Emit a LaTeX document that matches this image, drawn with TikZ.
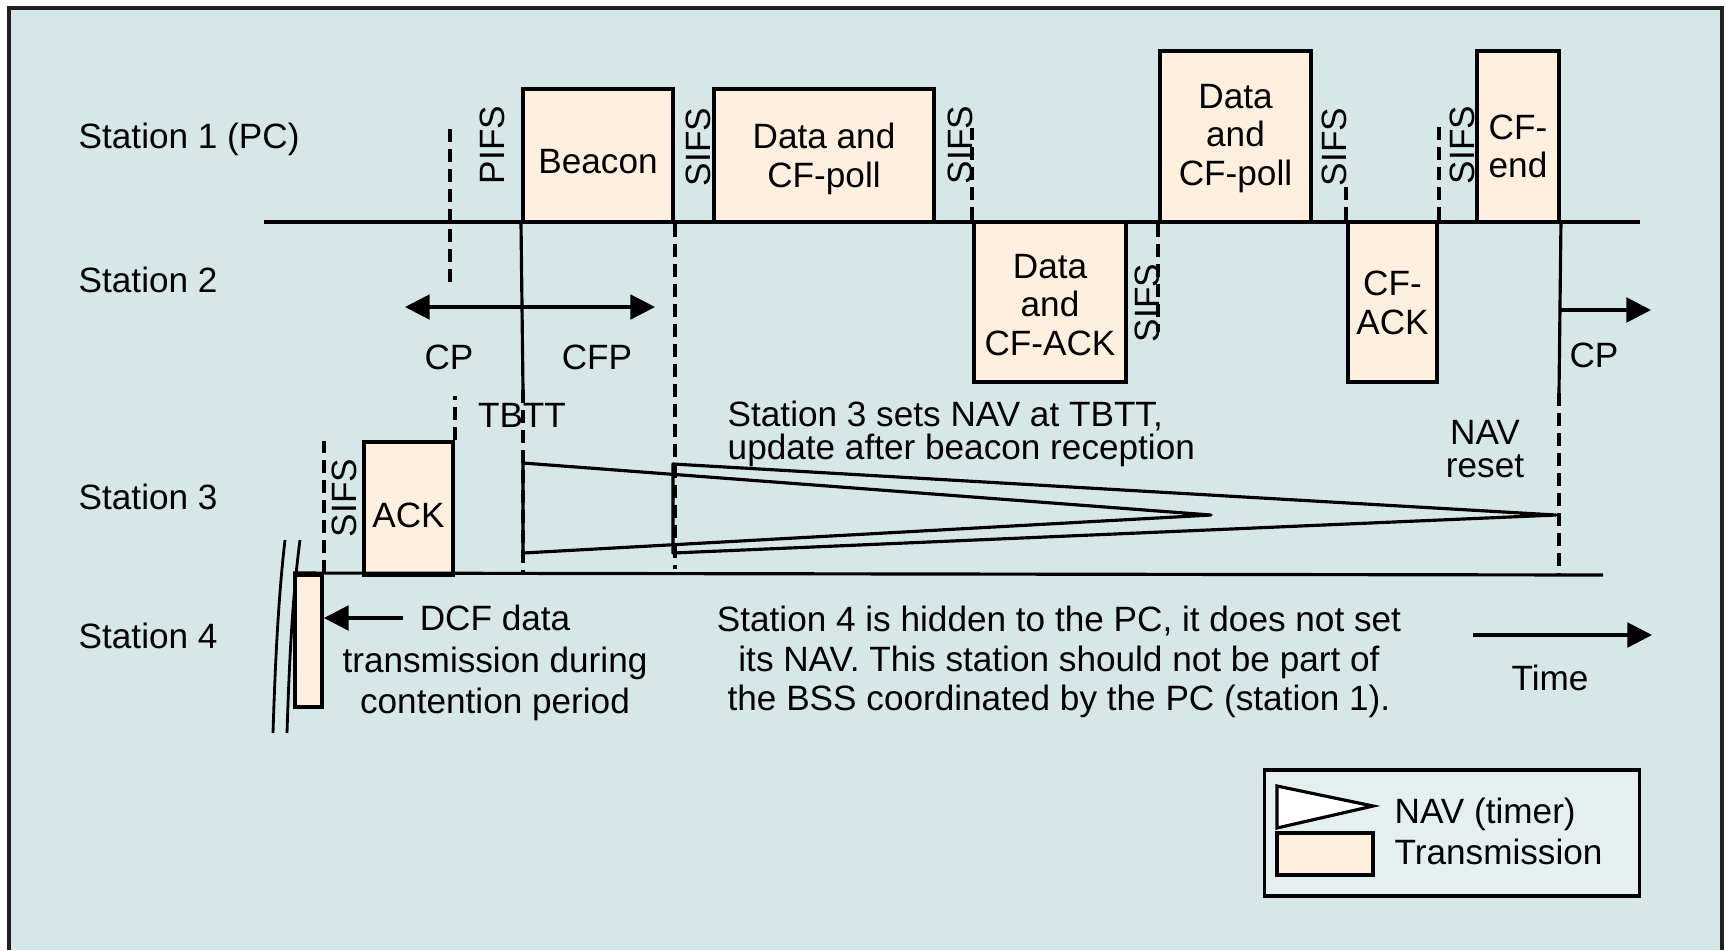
\documentclass[tikz,border=0pt]{standalone}
\usepackage{fontspec}
\setmainfont{Liberation Sans}
\usetikzlibrary{arrows.meta}

\definecolor{panelbg}{RGB}{214,231,231}
\definecolor{legendbg}{RGB}{229,239,239}
\definecolor{txfill}{RGB}{255,239,223}
\definecolor{framecol}{RGB}{35,31,32}

\begin{document}
\begin{tikzpicture}[
  x=0.01cm, y=-0.01cm,
  tx/.style={draw, line width=1.1pt, fill=txfill, inner sep=0pt},
  lbl/.style={inner sep=0pt, align=center, font=\fontsize{10}{11.2}\selectfont},
  boxl/.style={inner sep=0pt, align=center, font=\fontsize{10}{11}\selectfont},
  ifs/.style={inner sep=0pt, rotate=90, font=\fontsize{10}{11}\selectfont},
  tline/.style={line width=0.9pt},
  dsh/.style={line width=0.9pt, dash pattern=on 3.7pt off 2pt},
  arr/.style={-{Triangle[length=7pt, width=7pt]}, line width=0.9pt},
  darr/.style={{Triangle[length=7pt, width=7pt]}-{Triangle[length=7pt, width=7pt]},
               line width=0.9pt},
]

% ---- Panel -----------------------------------------------------------------
\useasboundingbox (0,0) rectangle (1726,950);
\fill[white] (0,0) rectangle (1726,950);
\fill[panelbg] (9,8) rectangle (1722,950);
\draw[framecol, line width=0.9pt] (9,950) -- (9,8) -- (1722,8) -- (1722,950);

% ---- Station labels --------------------------------------------------------
\node[lbl, anchor=west] (st1) at (78,139) {Station 1 (PC)};
\node[lbl, anchor=west] (st2) at (78,280) {Station 2};
\node[lbl, anchor=west] (st3) at (78,497) {Station 3};
\node[lbl, anchor=west] (st4) at (78,636) {Station 4};

% ---- Station 1 frames ------------------------------------------------------
\node[tx, minimum width=1.50cm, minimum height=1.33cm] (beacon) at (598,155.5) {};
\node[boxl] (beaconl) at ([yshift=-0.06cm]beacon.center) {Beacon};
\node[tx, minimum width=2.20cm, minimum height=1.33cm] (poll1)  at (824,155.5) {};
\node[boxl] (poll1l) at ([yshift=-0.035cm]poll1.center) {Data and\\CF-poll};
\node[tx, minimum width=1.51cm, minimum height=1.71cm] (poll2)  at (1235.5,136.5) {};
\node[boxl] (poll2l) at ([yshift=-0.02cm]poll2.center) {Data\\and\\CF-poll};
\node[tx, minimum width=0.82cm, minimum height=1.71cm] (cfend)  at (1518,136.5) {};
\node[boxl] (cfendl) at ([yshift=-0.10cm]cfend.center) {CF-\\end};

% ---- Station 2 frames ------------------------------------------------------
\node[tx, minimum width=1.52cm, minimum height=1.60cm] (dack)   at (1050,302) {};
\node[boxl] (dackl) at ([yshift=-0.03cm]dack.center) {Data\\and\\CF-ACK};
\node[tx, minimum width=0.89cm, minimum height=1.60cm] (cfack)  at (1392.5,302) {};
\node[boxl] (cfackl) at ([yshift=-0.01cm]cfack.center) {CF-\\ACK};

% ---- Station 3 / 4 frames --------------------------------------------------
\node[tx, minimum width=0.89cm, minimum height=1.33cm] (ack)    at (408.5,508.5) {};
\node[boxl] (ackl) at ([yshift=-0.065cm]ack.center) {ACK};
\node[tx, minimum width=0.27cm, minimum height=1.32cm] (dcfbox) at (308.5,641) {};

% ---- Time axes -------------------------------------------------------------
\coordinate (ax1a) at (264,222);
\coordinate (ax1b) at (1640,222);
\coordinate (ax3b) at (1603,575);
\draw[tline] (ax1a) -- (ax1b);
\draw[tline] (dcfbox.north west) -- (ax3b);

% ---- Interframe spaces -----------------------------------------------------
\coordinate (pifs) at (450,129);
\draw[dsh] (pifs) -- ++(0,154);
\node[ifs] (pifsl) at (492,145) {PIFS};
\node[ifs] (sifs1) at (698,147) {SIFS};
\draw[dsh] (dack.north west) -- ++(0,-92);
\node[ifs] (sifs2) at (960,145) {SIFS};
\draw[dsh] (poll2.south west) -- ++(0,108);
\node[ifs] (sifs3) at (1147,303) {SIFS};
\draw[dsh] (cfack.north west) -- ++(0,-39);
\node[ifs] (sifs4) at (1334,147) {SIFS};
\draw[dsh] (cfack.north east) -- ++(0,-94);
\node[ifs] (sifs5) at (1462,145) {SIFS};
\draw[dsh] (ack.north east) -- ++(0,-44);
\draw[dsh] (dcfbox.north east) -- ++(0,-132);
\node[ifs] (sifs6) at (344,498) {SIFS};

% ---- TBTT and period boundaries --------------------------------------------
\coordinate (tbtt) at (523,390);
\draw[tline] (beacon.south west) -- (tbtt);
\draw[dsh] (tbtt) -- (tbtt |- ax3b);
\node[lbl] (tbttl) at (522,415) {TBTT};
\draw[dsh] (beacon.south east) -- ++(0,345);
\coordinate (cpend) at (1559,393);
\draw[tline] (cfend.south east) -- (cpend);
\draw[dsh] (cpend) -- (cpend |- ax3b);

% ---- CP / CFP --------------------------------------------------------------
\coordinate (cpl) at (405,307);
\coordinate (cpr) at (655,307);
\draw[darr] (cpl) -- (cpr);
\node[lbl] (cp1) at (449,357) {CP};
\node[lbl] (cfp) at (597,357) {CFP};
\coordinate (cpr2) at (1651,310);
\draw[arr] (cpr2 -| cpend) -- (cpr2);
\node[lbl] (cp2) at (1594,355) {CP};

% ---- NAV of station 3 ------------------------------------------------------
\coordinate (nav1a) at (523,463);
\coordinate (nav1b) at (523,553);
\coordinate (nav1e) at (1211,515);
\draw[tline, line join=round] (nav1e) -- (nav1a) -- (nav1b) -- cycle;
\coordinate (nav2a) at (673,464);
\coordinate (nav2b) at (673,553);
\coordinate (nav2e) at (1556,515);
\draw[tline, line join=round] (nav2e) -- (nav2a) -- (nav2b) -- cycle;
\node[lbl, anchor=west, align=left, font=\fontsize{10}{9.4}\selectfont]
  (navnote) at (727,434) {Station 3 sets NAV at TBTT,\\update after beacon reception};
\node[lbl, font=\fontsize{10}{9.4}\selectfont] (navreset) at (1485,449)
  {NAV\\reset};

% ---- Station 4 -------------------------------------------------------------
\coordinate (dcfa) at (403,618);
\draw[arr] (dcfa) -- (dcfa -| dcfbox.east);
\node[lbl, font=\fontsize{10}{11.9}\selectfont] (dcfnote) at (495,663)
  {DCF data\\transmission during\\contention period};
\draw[line width=0.8pt] (285,540) .. controls (278,600) and (275,670) .. (273,733);
\draw[line width=0.8pt] (300,540) .. controls (292,600) and (289,670) .. (287,733);
\node[lbl] (hidden) at (1059,662)
  {Station 4 is hidden to the PC, it does not set\\its NAV. This station should not be part of\\the BSS coordinated by the PC (station 1).};

% ---- Time ------------------------------------------------------------------
\coordinate (time0) at (1473,635);
\coordinate (time1) at (1652,635);
\draw[arr] (time0) -- (time1);
\node[lbl] (timel) at (1550,678) {Time};

% ---- Legend ----------------------------------------------------------------
\node[draw, line width=0.9pt, fill=legendbg, inner sep=0pt,
      minimum width=3.74cm, minimum height=1.26cm] (legend) at (1452,833) {};
\coordinate (legnava) at (1277,786);
\coordinate (legnave) at (1373,806);
\coordinate (legnavb) at (1277,828);
\draw[tline, fill=white] (legnava) -- (legnave) -- (legnavb) -- cycle;
\node[tx, minimum width=0.96cm, minimum height=0.42cm] (legtx) at (1325,854) {};
\node[lbl, anchor=west] (legnav) at (1394,814) {NAV (timer)};
\node[lbl, anchor=west] (legtxl) at (1394,852) {Transmission};

\end{tikzpicture}
\end{document}
